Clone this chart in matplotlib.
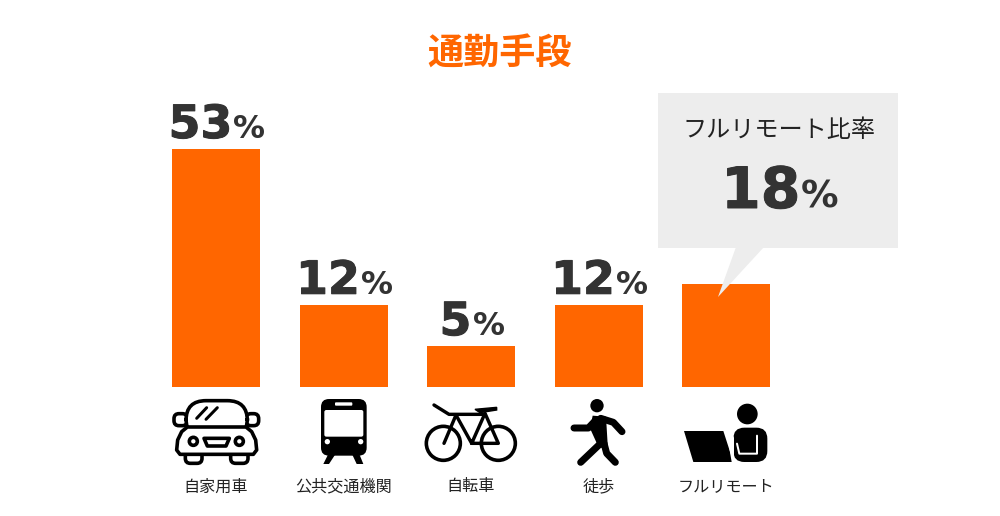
#!/usr/bin/env python3

import matplotlib

matplotlib.use("Agg")

import matplotlib.patheffects as pe
import matplotlib.pyplot as plt
from matplotlib.patches import Circle, FancyBboxPatch, Polygon, Rectangle

JP_FONT = ["Noto Sans CJK JP", "DejaVu Sans"]
NUM_FONT = ["DejaVu Sans"]
ORANGE = "#FF6600"
DARK = "#333333"
BUBBLE = "#EDEDED"

categories = ["自家用車", "公共交通機関", "自転車", "徒歩", "フルリモート"]
# bar heights as drawn, the picture is not to scale with its labels
bar_heights = [53.0, 18.3, 9.1, 18.3, 22.9]
bar_labels = ["53", "12", "5", "12", None]
title = "通勤手段"
callout_title = "フルリモート比率"
callout_value = "18"
PX = 0.72  # points per pixel at dpi 100


def to_px(x, y, origin):
    return origin[0] + x / 3, origin[1] + y / 3


def poly(ax, pts, origin, **kw):
    ax.add_patch(Polygon([to_px(x, y, origin) for x, y in pts], closed=True, **kw))


def line(ax, pts, origin, lw, color="black", cap="round"):
    xs, ys = zip(*[to_px(x, y, origin) for x, y in pts])
    ax.plot(xs, ys, color=color, lw=lw * PX, solid_capstyle=cap, solid_joinstyle="round")


def circle(ax, x, y, r, origin, **kw):
    cx, cy = to_px(x, y, origin)
    ax.add_patch(Circle((cx, cy), r / 3, **kw))


def rbox(ax, x0, y0, x1, y1, rad, origin, **kw):
    px0, py0 = to_px(x0, y0, origin)
    px1, py1 = to_px(x1, y1, origin)
    ax.add_patch(
        FancyBboxPatch(
            (px0 + rad, py0 + rad),
            px1 - px0 - 2 * rad,
            py1 - py0 - 2 * rad,
            boxstyle=f"round,pad={rad},rounding_size={rad}",
            **kw,
        )
    )


def draw_car(ax):
    o = (150, 385)
    style = dict(fc="white", ec="black", lw=3.6 * PX)
    rbox(ax, 72, 86, 112, 122, 5, o, **style)
    rbox(ax, 288, 86, 326, 122, 5, o, **style)
    rbox(ax, 106, 190, 156, 235, 5, o, **style)
    rbox(ax, 242, 190, 294, 235, 5, o, **style)
    rbox(ax, 108, 47, 292, 160, 20, o, **style)
    body = [(112, 126), (288, 126), (305, 140), (317, 165), (320, 195), (310, 208),
            (90, 208), (80, 195), (83, 165), (95, 140)]
    poly(ax, body, o, joinstyle="round", **style)
    line(ax, [(140, 100), (170, 68)], o, 3)
    line(ax, [(168, 103), (202, 68)], o, 3)
    circle(ax, 130, 169, 12, o, **style)
    circle(ax, 268, 169, 12, o, **style)
    poly(ax, [(162, 160), (238, 160), (228, 183), (172, 183)], o, joinstyle="round", **style)


def draw_train(ax):
    o = (150, 385)
    rbox(ax, 513, 42, 650, 212, 8, o, fc="black", ec="none")
    rbox(ax, 523, 75, 640, 155, 2, o, fc="white", ec="none")
    rbox(ax, 555, 52, 607, 62, 1, o, fc="white", ec="none")
    circle(ax, 532, 170, 8, o, fc="white", ec="none")
    circle(ax, 632, 170, 8, o, fc="white", ec="none")
    poly(ax, [(536, 205), (558, 205), (537, 237), (520, 237)], o, fc="black", ec="none")
    poly(ax, [(605, 205), (627, 205), (640, 237), (620, 237)], o, fc="black", ec="none")


def draw_bike(ax):
    o = (150, 385)
    wheel = dict(fc="none", ec="black", lw=3.6 * PX)
    circle(ax, 880, 175, 51, o, **wheel)
    circle(ax, 1045, 175, 51, o, **wheel)
    line(ax, [(852, 60), (897, 88), (1005, 88)], o, 3.4)
    line(ax, [(918, 90), (882, 175)], o, 3.4)
    line(ax, [(918, 90), (965, 175), (1045, 175), (1005, 85), (965, 175)], o, 3.4)
    poly(ax, [(975, 73), (1040, 67), (1040, 75), (990, 83)], o, fc="black", ec="black", lw=1)


def draw_walker(ax):
    o = (530, 385)
    circle(ax, 201, 62, 20, o, fc="black", ec="none")
    poly(ax, [(188, 92), (228, 95), (234, 195), (205, 185), (180, 130)], o, fc="black", ec="none")
    line(ax, [(195, 108), (175, 129), (132, 129)], o, 7)
    line(ax, [(212, 100), (250, 112), (276, 140)], o, 7)
    line(ax, [(212, 175), (152, 232)], o, 7)
    line(ax, [(222, 175), (230, 205), (256, 232)], o, 7)


def draw_remote(ax):
    o = (530, 385)
    circle(ax, 652, 87, 31, o, fc="black", ec="none")
    poly(ax, [(462, 138), (580, 138), (610, 231), (490, 231)], o, fc="black", ec="none")
    rbox(ax, 610, 128, 712, 231, 11, o, fc="black", ec="none")
    poly(ax, [(598, 190), (612, 150), (612, 231), (605, 231)], o, fc="white", ec="none")
    line(ax, [(681, 152), (681, 206), (628, 206), (621, 176)], o, 2.0, color="white")


def pct_label(ax, center, baseline, digits, digit_size, pct_size):
    # digits and the smaller % share a baseline, centred together over the bar
    heavy = [pe.withStroke(linewidth=0.7, foreground=DARK)]
    a = ax.text(0, baseline, digits, fontsize=digit_size, fontweight="bold", color=DARK,
                family=NUM_FONT, ha="left", va="baseline", zorder=6, path_effects=heavy)
    b = ax.text(0, baseline, "%", fontsize=pct_size, fontweight="bold", color=DARK,
                family=NUM_FONT, ha="left", va="baseline", zorder=6)
    r = ax.figure.canvas.get_renderer()
    wa = a.get_window_extent(r).width
    wb = b.get_window_extent(r).width
    left = center - (wa + wb + 1) / 2 + 1
    a.set_x(left)
    b.set_x(left + wa + 1)


def main():
    fig = plt.figure(figsize=(10, 5.16), dpi=100, facecolor="white")

    # overlay in pixel coordinates for texts, callout and icons
    ov = fig.add_axes([0, 0, 1, 1], zorder=2)
    ov.set_xlim(0, 1000)
    ov.set_ylim(516, 0)
    ov.axis("off")
    ov.patch.set_alpha(0)

    # bar axes: baseline at y=387, value 53 at y=149
    slot = 127.5
    left = 216 - 0.5 * slot
    bar_ax = fig.add_axes([left / 1000, (516 - 387) / 516, 5 * slot / 1000, 238 / 516], zorder=1)
    xs = list(range(len(categories)))
    bar_ax.bar(xs, bar_heights, width=88 / slot, color=ORANGE)
    bar_ax.set_xlim(-0.5, 4.5)
    bar_ax.set_ylim(0, 53)
    bar_ax.axis("off")

    ov.text(500, 54, title, fontsize=26, fontweight="bold", color=ORANGE, family=JP_FONT,
            ha="center", va="center")

    for i, (cat, height, lab) in enumerate(zip(categories, bar_heights, bar_labels)):
        center = 216 + i * slot
        ov.text(center, 487, cat, fontsize=11.6, color="#222222", family=JP_FONT,
                ha="center", va="center")
        if lab is not None:
            top = 387 - height * 238 / 53
            pct_label(ov, center, top - 11, lab, 33, 23)

    # callout
    ov.add_patch(Rectangle((658, 93), 240, 155, fc=BUBBLE, ec="none", zorder=4))
    ov.add_patch(Polygon([(736, 247), (764, 247), (718, 297)], closed=True, fc=BUBBLE, ec="none", zorder=4))
    ov.text(779, 130, callout_title, fontsize=17.4, color="#222222", family=JP_FONT,
            ha="center", va="center", zorder=6)
    pct_label(ov, 779, 208, callout_value, 41, 27)

    draw_car(ov)
    draw_train(ov)
    draw_bike(ov)
    draw_walker(ov)
    draw_remote(ov)

    fig.savefig("out.png", dpi=100, facecolor="white")
    plt.close(fig)


if __name__ == "__main__":
    main()
